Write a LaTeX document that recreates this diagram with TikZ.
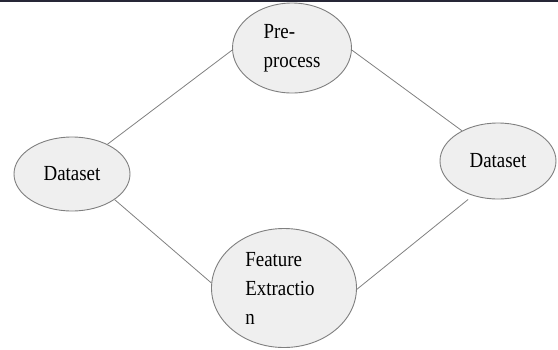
\documentclass[tikz,border=0pt]{standalone}
\usepackage{fontspec}
\setmainfont[FakeStretch=0.88]{Liberation Serif}
\usetikzlibrary{shapes.geometric}
\definecolor{bubblefill}{HTML}{EFEFEF}
\definecolor{rim}{HTML}{7F7F7F}
\definecolor{topbar}{HTML}{262636}
\begin{document}
\begin{tikzpicture}[x=1pt,y=-1pt]
\tikzstyle{every node}+=[inner sep=0pt]
\tikzstyle{bubble}=[ellipse, draw=rim, fill=bubblefill, line width=0.9pt, align=left, font=\fontsize{21.5}{29}\selectfont]
\tikzstyle{link}=[draw=gray, line width=0.8pt]
\useasboundingbox (0,0) rectangle (558,349);
\fill [topbar] (0,0) rectangle (558,2);
\node [bubble, minimum width=116pt, minimum height=74pt] (dataIn) at (72,174) {Dataset};
\node [bubble, minimum width=119pt, minimum height=90pt] (prep) at (292,48) {Pre-\\process};
\node [bubble, minimum width=116pt, minimum height=76pt] (dataOut) at (498,161) {Dataset};
\node [bubble, minimum width=145pt, minimum height=119pt] (feat) at (284,288) {\hspace*{-8pt}Feature\\\hspace*{-8pt}Extractio\\\hspace*{-8pt}n};
\draw [link] (dataIn.40) -- (prep.182);
\draw [link] (prep.-2) -- (dataOut.140);
\draw [link] (dataIn.-31) -- (feat.176);
\draw [link, shorten >=6pt] (feat.-1) -- (dataOut.234);
\end{tikzpicture}
\end{document}
